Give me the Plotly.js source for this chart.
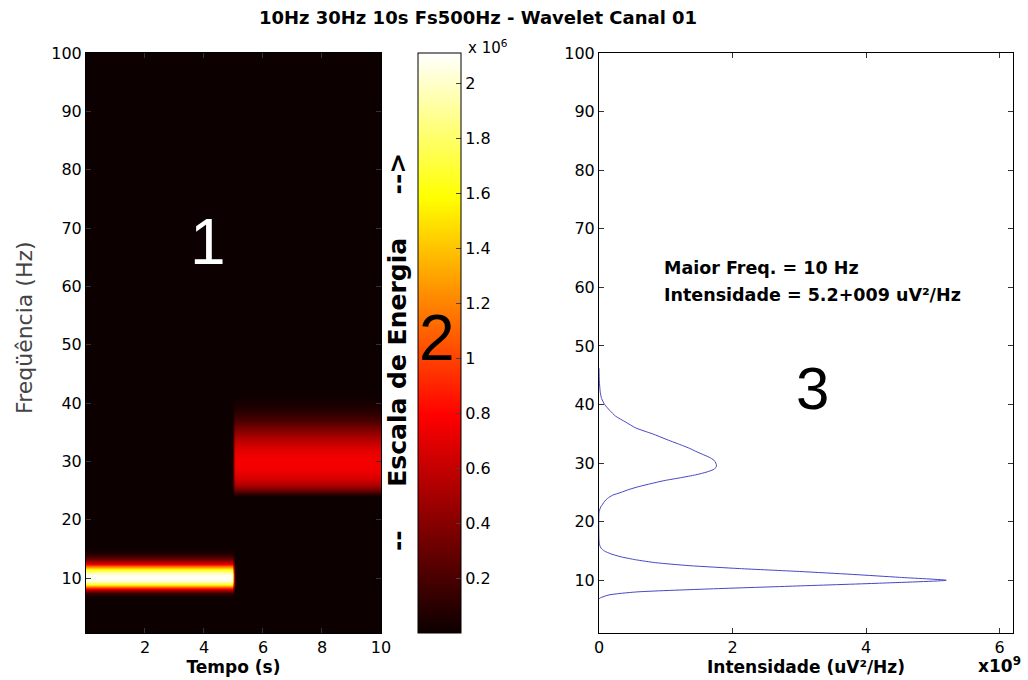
<!DOCTYPE html>
<html>
<head>
<meta charset="utf-8">
<script src="https://cdn.plot.ly/plotly-3.0.1.min.js"></script>
<style>html,body{margin:0;padding:0;background:#fff;}#chart{width:1028px;height:680px;}</style>
</head>
<body>
<div id="chart"></div>
<script>
// ---- Data ----
// Scalogram (panel 1): time columns (s) and frequency rows (Hz)
var timeS = [0, 4.96, 5.04, 10];
var freqHz = [0.5, 6, 7, 7.5, 8, 8.5, 9, 9.5, 10, 10.5, 11, 11.5, 12, 12.5, 13, 13.5, 14, 14.5, 15, 16,
              23, 24, 24.5, 25, 26, 27, 28, 29, 30, 31, 32, 33, 34, 35, 36, 37, 38, 39, 40, 41, 42, 100];
// energy (x 10^6) for 0-5 s (10 Hz component)
var energy10Hz = [0, 0, 0.02, 0.15, 0.5, 1.1, 1.7, 2.03, 2.1, 2.07, 1.9, 1.55, 1.1, 0.72, 0.45, 0.25, 0.11, 0.04, 0.01, 0,
                  0, 0, 0, 0, 0, 0, 0, 0, 0, 0, 0, 0, 0, 0, 0, 0, 0, 0, 0, 0, 0, 0];
// energy (x 10^6) for 5-10 s (30 Hz component)
var energy30Hz = [0, 0, 0, 0, 0, 0, 0, 0, 0, 0, 0, 0, 0, 0, 0, 0, 0, 0, 0, 0,
                  0, 0.01, 0.1, 0.28, 0.52, 0.65, 0.72, 0.75, 0.76, 0.74, 0.7, 0.62, 0.53, 0.42, 0.31, 0.21, 0.13, 0.07, 0.035, 0.012, 0, 0];
var cbTicks = [0.2, 0.4, 0.6, 0.8, 1, 1.2, 1.4, 1.6, 1.8, 2];

// Spectrum (panel 3): frequency (Hz) and intensity (x 10^9 uV²/Hz)
var specFreq = [6.8, 7, 7.5, 8, 8.5, 9, 9.5, 10, 10.5, 11, 11.5, 12, 12.5, 13, 13.5, 14, 14.5, 15, 15.5, 16, 16.7,
                21.7, 22, 22.5, 23, 23.5, 24, 24.5, 25, 25.5, 26, 26.5, 27, 27.5, 28, 28.5, 29, 29.5, 30, 30.5, 31, 31.5,
                32, 32.5, 33, 34, 35, 36, 37, 38, 39, 40, 41, 42, 44, 46.2];
var specInt = [0, 0.02, 0.15, 0.55, 1.6, 2.9, 4.2, 5.2, 4.5, 3.8, 3.0, 2.1, 1.35, 0.85, 0.55, 0.33, 0.18, 0.08, 0.03, 0.01, 0,
               0, 0.01, 0.025, 0.055, 0.085, 0.13, 0.2, 0.33, 0.45, 0.6, 0.78, 0.97, 1.22, 1.45, 1.62, 1.73, 1.76, 1.75, 1.72, 1.65, 1.55,
               1.45, 1.36, 1.25, 1.02, 0.8, 0.55, 0.4, 0.25, 0.16, 0.085, 0.04, 0.02, 0.005, 0];
var freqTicks = [10, 20, 30, 40, 50, 60, 70, 80, 90, 100];

// ---- Build the z table ----
var z = freqHz.map(function (f, i) {
  return [energy10Hz[i], energy10Hz[i], energy30Hz[i], energy30Hz[i]];
});

var hot = [[0, 'rgb(12,0,0)'], [0.375, 'rgb(255,0,0)'], [0.75, 'rgb(255,255,0)'], [1, 'rgb(255,255,255)']];
var tickFont = {family: 'DejaVu Sans', size: 16, color: '#000'};
var boldFont = {family: 'DejaVu Sans', size: 17, color: '#000'};

var traces = [
  {
    type: 'heatmap', x: timeS, y: freqHz, z: z, xaxis: 'x', yaxis: 'y',
    colorscale: hot, zmin: 0, zmax: 2.11, zsmooth: 'best', hoverinfo: 'skip',
    colorbar: {
      x: 0.3581, xanchor: 'left', xref: 'paper', y: 0.5, yanchor: 'middle', yref: 'paper',
      len: 1, lenmode: 'fraction', thickness: 43, thicknessmode: 'pixels',
      xpad: 0, ypad: 0, outlinewidth: 1, outlinecolor: '#000',
      tickvals: cbTicks, ticks: 'inside', ticklen: 5, tickcolor: '#444',
      tickfont: tickFont
    }
  },
  {
    type: 'scatter', mode: 'lines', x: specInt, y: specFreq, xaxis: 'x2', yaxis: 'y2',
    line: {color: 'rgb(70,70,200)', width: 1, shape: 'spline', smoothing: 0.6}, hoverinfo: 'skip', showlegend: false
  }
];

var axisCommon = {
  showgrid: false, zeroline: false, showline: true, mirror: 'ticks', linecolor: '#000', linewidth: 1,
  ticks: 'inside', ticklen: 5, tickcolor: '#333', tickfont: tickFont
};

function ax(extra) { return Object.assign({}, axisCommon, extra); }

var layout = {
  width: 1028, height: 680,
  margin: {l: 86, r: 15, t: 53, b: 47},
  paper_bgcolor: '#fff', plot_bgcolor: '#fff',
  showlegend: false,
  title: {
    text: '<b>10Hz 30Hz 10s Fs500Hz - Wavelet Canal 01</b>',
    font: {family: 'DejaVu Sans', size: 18, color: '#000'},
    x: 0.465, xref: 'container', xanchor: 'center', y: 0.9735, yref: 'container', yanchor: 'middle'
  },
  xaxis: ax({domain: [0, 0.3182], anchor: 'y', range: [0, 10], tickvals: [2, 4, 6, 8, 10],
    title: {text: '<b>Tempo (s)</b>', font: boldFont, standoff: 2}}),
  yaxis: ax({domain: [0, 1], anchor: 'x', range: [0.6, 100], tickvals: freqTicks}),
  xaxis2: ax({domain: [0.5534, 1], anchor: 'y2', range: [0, 6.2], tickvals: [0, 2, 4, 6],
    title: {text: '<b>Intensidade (uV²/Hz)</b>', font: boldFont, standoff: 2}}),
  yaxis2: ax({domain: [0, 1], anchor: 'x2', range: [1, 100], tickvals: freqTicks}),
  annotations: [
    {xref: 'paper', yref: 'paper', x: -0.0658, y: 0.526, text: 'Freqüência (Hz)', textangle: -90, showarrow: false,
      xanchor: 'center', yanchor: 'middle', font: {family: 'DejaVu Sans', size: 22, color: '#444'}},
    {xref: 'paper', yref: 'paper', x: 0.3366, y: 0.4845,
      text: '<b>--\u00a0\u00a0\u00a0\u00a0\u00a0Escala de Energia\u00a0\u00a0\u00a0\u00a0\u00a0--></b>', textangle: -90, showarrow: false,
      xanchor: 'center', yanchor: 'middle', font: {family: 'DejaVu Sans', size: 25, color: '#000'}},
    {xref: 'paper', yref: 'paper', x: 0.41, y: 1.0103, text: 'x 10<sup>6</sup>', showarrow: false,
      xanchor: 'left', yanchor: 'middle', font: {family: 'DejaVu Sans', size: 15, color: '#000'}},
    {xref: 'paper', yref: 'paper', x: 0.960, y: -0.0552, text: '<b>x10<sup>9</sup></b>', showarrow: false,
      xanchor: 'left', yanchor: 'middle', font: boldFont},
    {xref: 'paper', yref: 'paper', x: 0.6214, y: 0.6293, text: '<b>Maior Freq. = 10 Hz</b>', showarrow: false,
      xanchor: 'left', yanchor: 'middle', font: {family: 'DejaVu Sans', size: 17.5, color: '#000'}},
    {xref: 'paper', yref: 'paper', x: 0.6214, y: 0.5828, text: '<b>Intensidade = 5.2+009 uV²/Hz</b>', showarrow: false,
      xanchor: 'left', yanchor: 'middle', font: {family: 'DejaVu Sans', size: 17.5, color: '#000'}},
    {xref: 'paper', yref: 'paper', x: 0.1316, y: 0.674, text: '1', showarrow: false,
      xanchor: 'center', yanchor: 'middle', font: {family: 'Liberation Sans', size: 64, color: '#fff'}},
    {xref: 'paper', yref: 'paper', x: 0.3786, y: 0.5086, text: '2', showarrow: false,
      xanchor: 'center', yanchor: 'middle', font: {family: 'Liberation Sans', size: 64, color: '#000'}},
    {xref: 'paper', yref: 'paper', x: 0.7832, y: 0.4224, text: '3', showarrow: false,
      xanchor: 'center', yanchor: 'middle', font: {family: 'Liberation Sans', size: 60, color: '#000'}}
  ]
};

Plotly.newPlot('chart', traces, layout, {displayModeBar: false, staticPlot: true});
</script>
</body>
</html>
